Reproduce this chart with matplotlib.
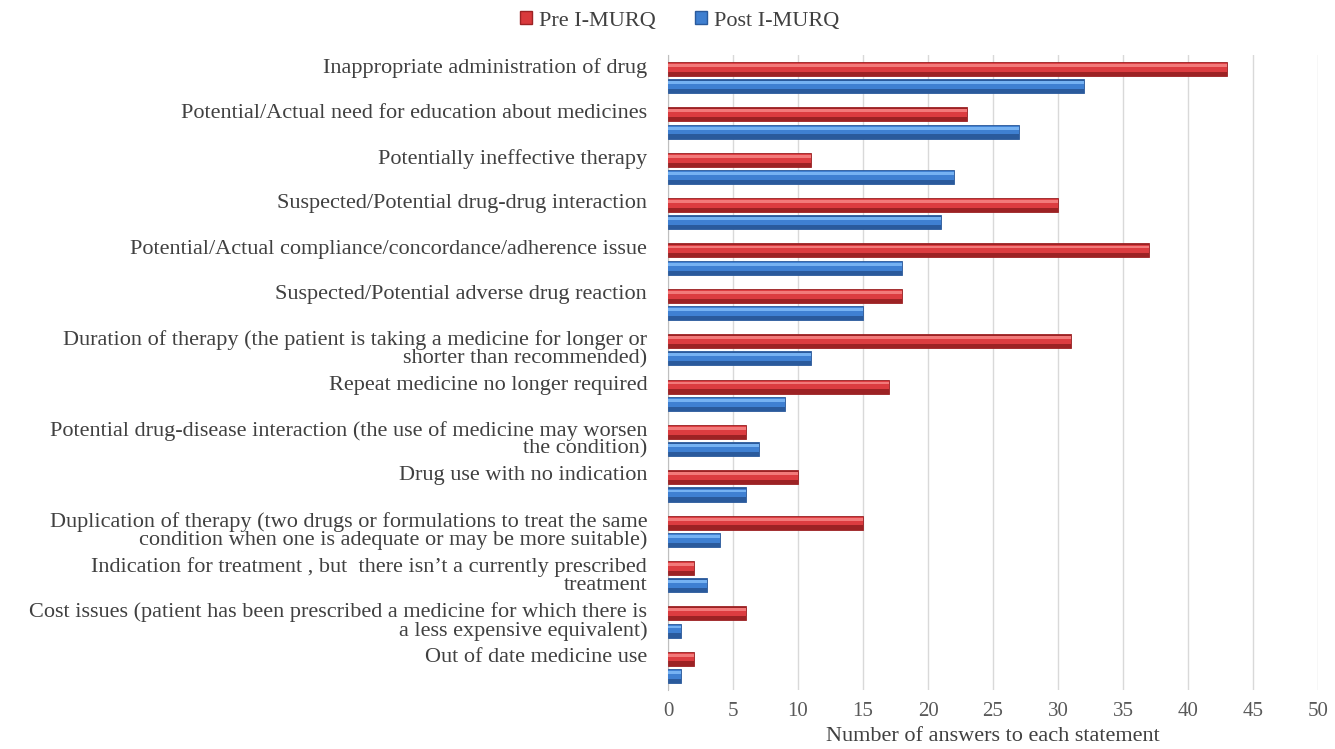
import matplotlib
matplotlib.use("Agg")
import matplotlib.pyplot as plt
from matplotlib.patches import Patch
import numpy as np

plt.rcParams['font.family'] = ['Liberation Serif', 'DejaVu Serif']

# категории (сверху вниз)
categories = [
    "Inappropriate administration of drug",
    "Potential/Actual need for education about medicines",
    "Potentially ineffective therapy",
    "Suspected/Potential drug-drug interaction",
    "Potential/Actual compliance/concordance/adherence issue",
    "Suspected/Potential adverse drug reaction",
    "Duration of therapy (the patient is taking a medicine for longer or\nshorter than recommended)",
    "Repeat medicine no longer required",
    "Potential drug-disease interaction (the use of medicine may worsen\nthe condition)",
    "Drug use with no indication",
    "Duplication of therapy (two drugs or formulations to treat the same\ncondition when one is adequate or may be more suitable)",
    "Indication for treatment , but  there isn\u2019t a currently prescribed\ntreatment",
    "Cost issues (patient has been prescribed a medicine for which there is\na less expensive equivalent)",
    "Out of date medicine use",
]
pre_values = [43, 23, 11, 30, 37, 18, 31, 17, 6, 10, 15, 2, 6, 2]
post_values = [32, 27, 22, 21, 18, 15, 11, 9, 7, 6, 4, 3, 1, 1]
x_ticks = list(range(0, 51, 5))

fig = plt.figure(figsize=(13.35, 7.49), dpi=100)
ax = fig.add_axes([0.5004, 0.0788, 0.4869, 0.8478])

y = np.arange(len(categories))
h = 0.31
off = 0.19

# "объёмные" полосы: тёмная основа + светлые слои
def bevel_bars(yy, vals, dark, mid, light):
    ax.barh(yy, vals, height=h, color=dark, edgecolor=dark, linewidth=0.6, zorder=3)
    ax.barh(yy - h * 0.1, vals, height=h * 0.6, color=mid, linewidth=0, zorder=4)
    ax.barh(yy - h * 0.25, vals, height=h * 0.2, color=light, linewidth=0, zorder=5)

bevel_bars(y - off, pre_values, '#9c2224', '#dc3c40', '#f27a7a')
bevel_bars(y + off, post_values, '#2a5a9c', '#3f80d2', '#76b2f2')

ax.set_xlim(0, 50)
ax.set_ylim(len(categories) - 0.5, -0.5)
ax.set_xticks(x_ticks)
ax.tick_params(axis='x', length=0, labelsize=15, labelcolor='#595959', pad=9)
ax.grid(axis='x', color='#d9d9d9', linewidth=1, zorder=0)

# подписи категорий выровнены по верху
ax.set_yticks(y - 0.43)
ax.set_yticklabels(categories, fontsize=16, color='#404040', va='top',
                   linespacing=0.9)
ax.tick_params(axis='y', length=0, pad=15)

for s in ['top', 'right', 'bottom']:
    ax.spines[s].set_visible(False)
ax.spines['left'].set_color('#bfbfbf')

ax.set_xlabel('Number of answers to each statement', fontsize=16,
              color='#404040', labelpad=4)

handles = [Patch(facecolor='#d9393c', edgecolor='#9c2224', label='Pre I-MURQ'),
           Patch(facecolor='#3f7fd0', edgecolor='#2a5a9c', label='Post I-MURQ')]
fig.legend(handles=handles, loc='upper center', bbox_to_anchor=(0.509, 1.012),
           ncol=2, frameon=False, fontsize=16, handlelength=0.55,
           handleheight=0.55, handletextpad=0.3, columnspacing=1.75,
           labelcolor='#404040')

fig.savefig('out.png', dpi=100)
